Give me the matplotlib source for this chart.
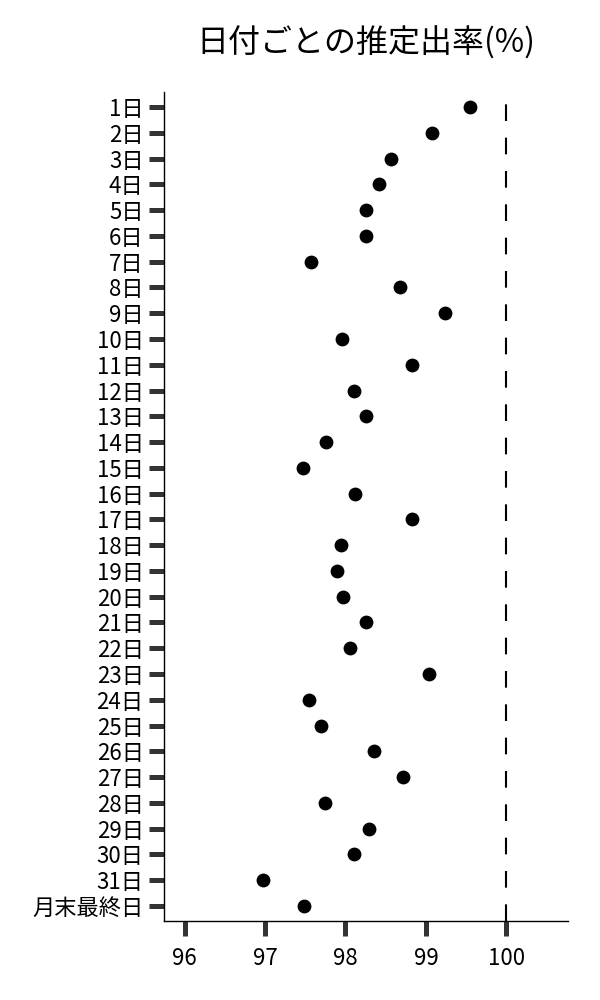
import numpy as np
import matplotlib.pyplot as plt

plt.rcParams['font.family'] = ['Noto Sans CJK JP', 'DejaVu Sans']

days = [f"{d}日" for d in range(1, 32)] + ["月末最終日"]
rates = [99.55, 99.07, 98.57, 98.42, 98.26, 98.26, 97.57, 98.68, 99.24, 97.96,
         98.83, 98.10, 98.25, 97.76, 97.47, 98.12, 98.83, 97.95, 97.89, 97.97,
         98.25, 98.05, 99.04, 97.55, 97.69, 98.36, 98.71, 97.75, 98.29, 98.11,
         96.98, 97.49]
x_ticks = [96, 97, 98, 99, 100]

fig = plt.figure(figsize=(6, 10), dpi=100)
ax = fig.add_axes([0.273, 0.079, 0.674, 0.829])

y = np.arange(len(days))
ax.scatter(rates, y, s=80, color='black', zorder=3)
ax.axvline(100, color='black', lw=1.5, dashes=(8, 8))

ax.set_yticks(y)
ax.set_yticklabels(days)
ax.set_ylim(len(days) - 1 + 0.58, -0.58)
ax.set_xticks(x_ticks)
ax.set_xlim(95.74, 100.77)

ax.spines['top'].set_visible(False)
ax.spines['right'].set_visible(False)
for s in ['left', 'bottom']:
    ax.spines[s].set_linewidth(1.0)
ax.tick_params(axis='both', length=10.5, width=3.6, color='#333333',
               labelsize=16, pad=4)
ax.tick_params(axis='x', pad=8)

fig.text(0.61, 0.957, "日付ごとの推定出率(%)", ha='center', va='center', fontsize=23)

fig.savefig("out.png", dpi=100)
